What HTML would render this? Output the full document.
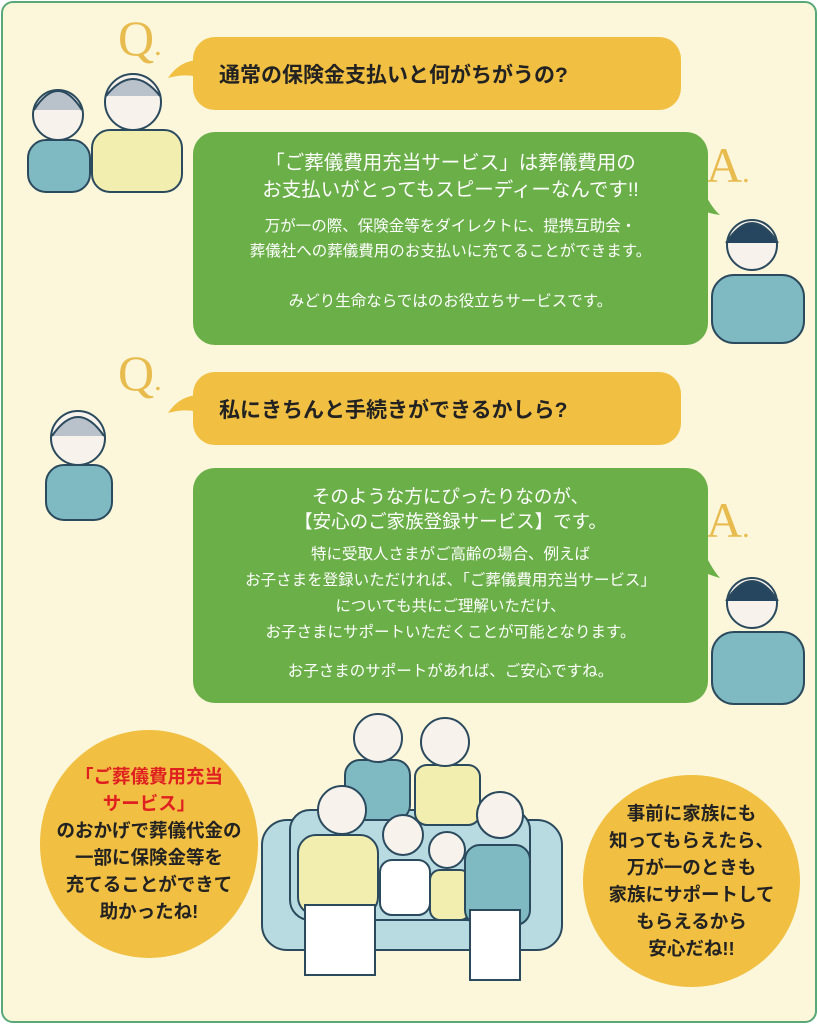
<!DOCTYPE html>
<html><head><meta charset="utf-8"><style>
*{margin:0;padding:0;box-sizing:border-box}
body{width:818px;height:1024px;background:#fff;font-family:"Liberation Sans","Noto Sans CJK JP",sans-serif;position:relative;overflow:hidden}
.frame{position:absolute;left:1px;top:1px;width:816px;height:1022px;border:2px solid #5aa878;border-radius:12px;background:#fcf7da}
.ab{position:absolute}
.q{background:#f1bf42;border-radius:22px;color:#222;font-size:21px;font-weight:bold;padding-left:26px;display:flex;align-items:center}
.a{background:#6aaf48;border-radius:22px;color:#fff;text-align:center}
.L{font-family:"Liberation Serif","Noto Serif CJK SC",serif;color:#e8bb4e;font-size:50px;line-height:60px}
.c{background:#f1bf42;border-radius:50%;text-align:center;color:#222;font-size:18.5px;font-weight:bold;line-height:27px;display:flex;flex-direction:column;justify-content:center}
</style></head><body>
<div class="frame"></div>
<svg class="ab" style="left:0;top:0" width="818" height="1024">
<g stroke="#2b4a5e" stroke-width="2">
<rect x="28" y="140" width="62" height="52" rx="18" fill="#7fbac3"/>
<circle cx="58" cy="115" r="25" fill="#f7f3ec"/>
<path d="M34 110 Q58 72 82 110" fill="#b9c2cb"/>
<rect x="92" y="130" width="90" height="62" rx="18" fill="#f2eeb0"/>
<circle cx="133" cy="102" r="28" fill="#f7f3ec"/>
<path d="M106 96 Q133 62 160 96" fill="#b9c2cb"/>
<rect x="712" y="275" width="92" height="68" rx="22" fill="#7fbac3"/>
<circle cx="752" cy="245" r="25" fill="#f7f3ec"/>
<path d="M726 243 Q752 203 778 243" fill="#25465e"/>
<rect x="46" y="465" width="66" height="55" rx="18" fill="#7fbac3"/>
<circle cx="78" cy="438" r="27" fill="#f7f3ec"/>
<path d="M52 436 Q78 398 104 436" fill="#b9c2cb"/>
<rect x="712" y="632" width="92" height="72" rx="22" fill="#7fbac3"/>
<circle cx="752" cy="603" r="25" fill="#f7f3ec"/>
<path d="M726 601 Q752 561 778 601" fill="#25465e"/>
<rect x="262" y="820" width="300" height="130" rx="25" fill="#b7dbe0"/>
<rect x="290" y="810" width="240" height="110" rx="20" fill="#b7dbe0"/>
<rect x="345" y="760" width="65" height="60" rx="15" fill="#7fbac3"/>
<circle cx="378" cy="738" r="24" fill="#f7f3ec"/>
<rect x="415" y="765" width="65" height="60" rx="12" fill="#f2eeb0"/>
<circle cx="445" cy="742" r="24" fill="#f7f3ec"/>
<rect x="298" y="835" width="80" height="80" rx="18" fill="#f2eeb0"/>
<rect x="305" y="905" width="70" height="70" fill="#fff"/>
<circle cx="342" cy="810" r="24" fill="#f7f3ec"/>
<rect x="380" y="860" width="50" height="55" rx="12" fill="#fff"/>
<circle cx="403" cy="835" r="20" fill="#f7f3ec"/>
<rect x="430" y="870" width="40" height="50" rx="10" fill="#f2eeb0"/>
<circle cx="447" cy="850" r="18" fill="#f7f3ec"/>
<rect x="465" y="845" width="65" height="80" rx="15" fill="#7fbac3"/>
<rect x="470" y="910" width="50" height="70" fill="#fff"/>
<circle cx="500" cy="815" r="23" fill="#f7f3ec"/>
</g>
<path d="M200 60 Q180 60 168 78 Q190 72 205 80Z" fill="#f1bf42"/>
<path d="M200 395 Q180 395 168 413 Q190 407 205 415Z" fill="#f1bf42"/>
<path d="M695 172 Q708 205 720 215 Q698 212 685 200Z" fill="#6aaf48"/>
<path d="M695 530 Q708 565 720 578 Q698 572 685 560Z" fill="#6aaf48"/>
</svg>
<div class="ab L" style="left:118px;top:8px">Q<span style="font-size:30px">.</span></div>
<div class="ab L" style="left:118px;top:343px">Q<span style="font-size:30px">.</span></div>
<div class="ab L" style="left:706px;top:135px">A<span style="font-size:30px">.</span></div>
<div class="ab L" style="left:706px;top:490px">A<span style="font-size:30px">.</span></div>
<div class="ab q" style="left:193px;top:37px;width:488px;height:73px">通常の保険金支払いと何がちがうの?</div>
<div class="ab a" style="left:193px;top:132px;width:515px;height:213px;padding-top:18px">
<div style="font-size:19.5px;line-height:27px">「ご葬儀費用充当サービス」は葬儀費用の<br>お支払いがとってもスピーディーなんです!!</div>
<div style="font-size:15.5px;line-height:25px;margin-top:10px">万が一の際、保険金等をダイレクトに、提携互助会・<br>葬儀社への葬儀費用のお支払いに充てることができます。</div>
<div style="font-size:15.5px;line-height:25px;margin-top:25px">みどり生命ならではのお役立ちサービスです。</div>
</div>
<div class="ab q" style="left:193px;top:372px;width:488px;height:73px">私にきちんと手続きができるかしら?</div>
<div class="ab a" style="left:193px;top:468px;width:515px;height:235px;padding-top:16px">
<div style="font-size:18.5px;line-height:25px">そのような方にぴったりなのが、<br>【安心のご家族登録サービス】です。</div>
<div style="font-size:15.5px;line-height:26px;margin-top:8px">特に受取人さまがご高齢の場合、例えば<br>お子さまを登録いただければ、「ご葬儀費用充当サービス」<br>についても共にご理解いただけ、<br>お子さまにサポートいただくことが可能となります。</div>
<div style="font-size:15.5px;line-height:25px;margin-top:13px">お子さまのサポートがあれば、ご安心ですね。</div>
</div>
<div class="ab c" style="left:40px;top:730px;width:218px;height:228px"><div style="color:#e02020">「ご葬儀費用充当<br>サービス」</div><div>のおかげで葬儀代金の<br>一部に保険金等を<br>充てることができて<br>助かったね!</div></div>
<div class="ab c" style="left:583px;top:775px;width:217px;height:212px">事前に家族にも<br>知ってもらえたら、<br>万が一のときも<br>家族にサポートして<br>もらえるから<br>安心だね!!</div>
</body></html>
